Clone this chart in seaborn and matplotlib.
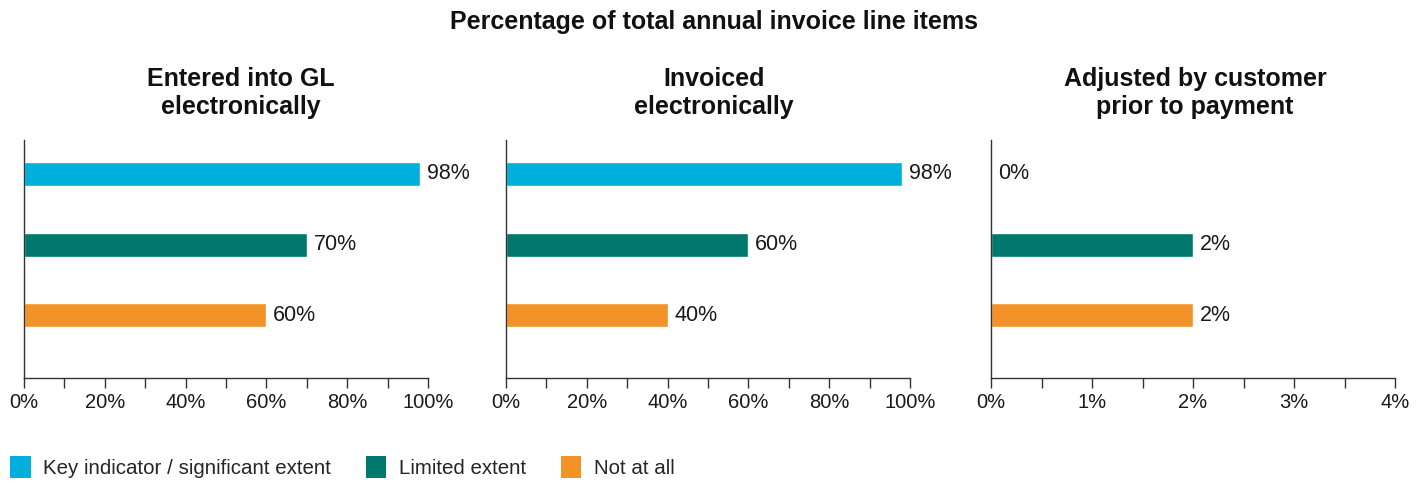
import numpy as np
import pandas as pd
import matplotlib
matplotlib.use('agg')
import matplotlib.pyplot as plt
from matplotlib.patches import Patch
from matplotlib.ticker import MultipleLocator, FuncFormatter
import seaborn as sns

sns.set_style('white')
plt.rcParams['font.family'] = ['Liberation Sans', 'DejaVu Sans']

# data
categories = ['Key indicator / significant extent', 'Limited extent', 'Not at all']
panel_titles = ['Entered into GL\nelectronically', 'Invoiced\nelectronically',
                'Adjusted by customer\nprior to payment']
gl_values = [98, 70, 60]
invoiced_values = [98, 60, 40]
adjusted_values = [0, 2, 2]
x_max = [100, 100, 4]
major_step = [20, 20, 1]
minor_step = [10, 10, 0.5]

colors = ['#00afdb', '#00786d', '#f29229']

df = pd.DataFrame({
    'panel': np.repeat([0, 1, 2], 3),
    'category': categories * 3,
    'value': gl_values + invoiced_values + adjusted_values,
})

W, H = 1427, 484
fig = plt.figure(figsize=(W / 100, H / 100), dpi=100)
lefts = [24 / W, 506 / W, 991 / W]
title_x = [241 / W, 714 / W, 1195 / W]
width = 404 / W
bottom = 1 - 378 / H
height = (378 - 140) / H

for i in range(3):
    ax = fig.add_axes([lefts[i], bottom, width, height])
    sub = df[df.panel == i]
    sns.barplot(data=sub, y='category', x='value', hue='category', palette=colors,
                order=categories, hue_order=categories, width=0.34, legend=False,
                saturation=1, ax=ax)
    for j, v in enumerate(sub['value']):
        ax.annotate(f'{v:g}%', (v, j), xytext=(5, 0), textcoords='offset points',
                    va='center', ha='left', fontsize=15.5, color='#1a1a1a')
    ax.set_xlim(0, x_max[i])
    ax.set_ylim(2.89, -0.48)
    ax.xaxis.set_major_locator(MultipleLocator(major_step[i]))
    ax.xaxis.set_minor_locator(MultipleLocator(minor_step[i]))
    ax.xaxis.set_major_formatter(FuncFormatter(lambda x, p: f'{x:g}%'))
    ax.tick_params(axis='x', which='both', direction='out', length=7, width=1,
                   color='#333333', bottom=True, labelsize=14.5, pad=4, labelcolor='#1a1a1a')
    ax.set_yticks([])
    ax.set_xlabel('')
    ax.set_ylabel('')
    sns.despine(ax=ax, top=True, right=True)
    for s in ['left', 'bottom']:
        ax.spines[s].set_color('#333333')
        ax.spines[s].set_linewidth(1)
    fig.text(title_x[i], 1 - 119 / H, panel_titles[i], ha='center', va='bottom',
             fontsize=18, fontweight='bold', linespacing=1.22, color='#111111')

fig.text(0.5, 1 - 22 / H, 'Percentage of total annual invoice line items',
         ha='center', va='center', fontsize=18, fontweight='bold', color='#111111')

handles = [Patch(facecolor=c, edgecolor='none') for c in colors]
fig.legend(handles, categories, loc='lower left', bbox_to_anchor=(-0.003, -0.018), ncol=3,
           frameon=False, fontsize=14.8, handlelength=1.0, handleheight=1.3,
           handletextpad=0.6, columnspacing=1.7, borderaxespad=0.3)

fig.savefig('out.png', dpi=100)
